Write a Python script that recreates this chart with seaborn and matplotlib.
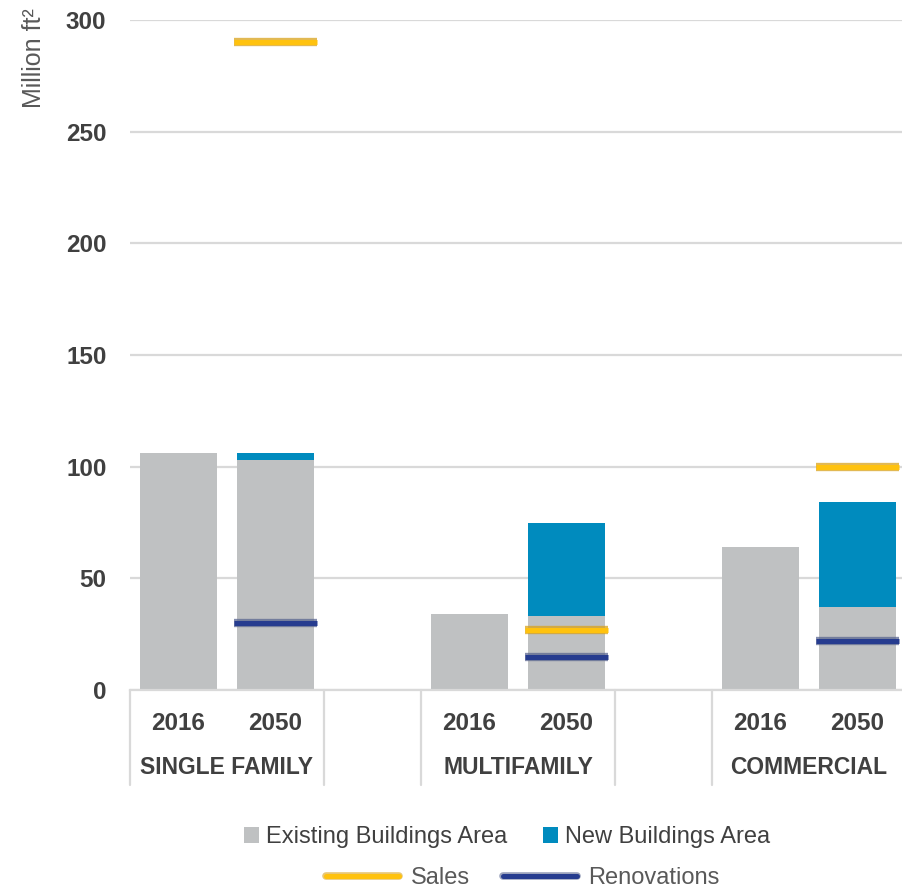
import matplotlib
matplotlib.use("Agg")
import matplotlib.pyplot as plt
import matplotlib.patheffects as pe
from matplotlib.patches import Patch
from matplotlib.lines import Line2D
import matplotlib.transforms as mtransforms
import numpy as np
import pandas as pd
import seaborn as sns

# ---- data (million ft²) ----
groups = ["SINGLE FAMILY", "MULTIFAMILY", "COMMERCIAL"]
years = ["2016", "2050"]
slots = ["SF 2016", "SF 2050", "MF 2016", "MF 2050", "COM 2016", "COM 2050"]
existing_area = [106, 103, 34, 33, 64, 37]
new_area = [0, 3, 0, 42, 0, 47]
sales_slots = ["SF 2050", "MF 2050", "COM 2050"]
sales = [290, 27, 100]
renovations = [30, 15, 22]

# category order on the axis, with empty spacer slots between groups
order = ["SF 2016", "SF 2050", "gap 1", "MF 2016", "MF 2050", "gap 2", "COM 2016", "COM 2050"]
tick_labels = ["2016", "2050", "", "2016", "2050", "", "2016", "2050"]
yticks = [0, 50, 100, 150, 200, 250, 300]

GRAY = "#BFC1C2"
BLUE = "#008BBE"
YELLOW = "#FFC20E"
YELLOW_EDGE = "#D9A21A"
NAVY = "#263C8F"
NAVY_EDGE = "#5A6690"
GRID = "#D9D9D9"
TEXT = "#404040"
TEXT2 = "#595959"

sns.set_style("white")
plt.rcParams["font.family"] = ["Liberation Sans", "DejaVu Sans"]

df = pd.DataFrame({"slot": slots, "existing": existing_area, "new": new_area})
df["total"] = df["existing"] + df["new"]

W, H = 902, 892
fig = plt.figure(figsize=(W / 100, H / 100), dpi=100)
ax = fig.add_axes([130 / W, (H - 690) / H, 776 / W, 670 / H])

# stacked bars: total in blue, existing area drawn over it in gray
sns.barplot(data=df, x="slot", y="total", order=order, color=BLUE,
            saturation=1, width=0.8, linewidth=0, ax=ax, zorder=2)
sns.barplot(data=df, x="slot", y="existing", order=order, color=GRAY,
            saturation=1, width=0.8, linewidth=0, ax=ax, zorder=3)

# sales / renovation markers as short horizontal dashes across the bars
half = 0.426
for vals, core, edge in [(sales, YELLOW, YELLOW_EDGE), (renovations, NAVY, NAVY_EDGE)]:
    xs = np.array([order.index(s) for s in sales_slots])
    ax.hlines(vals, xs - half, xs + half, colors=core, linewidth=3.6, zorder=5,
              capstyle="butt",
              path_effects=[pe.Stroke(linewidth=6.0, foreground=edge, alpha=0.75),
                            pe.Normal()])

ax.set_xlim(-0.5, 7.5)
ax.set_ylim(0, 300)
ax.set_yticks(yticks)
ax.set_yticklabels([str(v) for v in yticks], fontsize=17.5, fontweight="bold", color=TEXT)
ax.set_xticks(range(len(order)))
ax.set_xticklabels(tick_labels, fontsize=17.5, fontweight="bold", color=TEXT)
ax.tick_params(axis="y", length=0, pad=17)
ax.tick_params(axis="x", length=0, pad=16)
ax.set_xlabel("")
ax.set_ylabel("")

ax.yaxis.grid(True, color=GRID, linewidth=1.6, zorder=0)
ax.set_axisbelow(True)
for side in ["top", "right", "left"]:
    ax.spines[side].set_visible(False)
ax.spines["bottom"].set_color(GRID)
ax.spines["bottom"].set_linewidth(1.6)
ax.spines["bottom"].set_zorder(4)

# group separators and group labels below the year labels
trans = mtransforms.blended_transform_factory(ax.transData, ax.transAxes)
for xb in [-0.5, 1.5, 2.5, 4.5, 5.5]:
    ax.plot([xb, xb], [0, -95 / 670], transform=trans, color=GRID,
            linewidth=1.6, clip_on=False)
for name, xc in zip(groups, [0.5, 3.5, 6.5]):
    ax.text(xc, -78 / 670, name, transform=trans, ha="center", va="center",
            fontsize=16.5, fontweight="bold", color=TEXT)

fig.text(34 / W, 1 - 58 / H, "Million ft²", rotation=90, ha="center", va="center",
         fontsize=18, color=TEXT2)

# legends
area_handles = [Patch(facecolor=GRAY, edgecolor="none"),
                Patch(facecolor=BLUE, edgecolor="none")]
leg1 = fig.legend(area_handles, ["Existing Buildings Area", "New Buildings Area"],
                  loc="center", bbox_to_anchor=(507 / W, 1 - 837 / H), ncol=2,
                  frameon=False, fontsize=17, handlelength=0.65, handleheight=0.65,
                  handletextpad=0.3, columnspacing=1.5, labelcolor=TEXT)
line_handles = [
    Line2D([], [], color=YELLOW, linewidth=3.6,
           path_effects=[pe.Stroke(linewidth=5.5, foreground=YELLOW_EDGE, alpha=0.6), pe.Normal()]),
    Line2D([], [], color=NAVY, linewidth=3.6,
           path_effects=[pe.Stroke(linewidth=5.5, foreground=NAVY_EDGE, alpha=0.6), pe.Normal()]),
]
leg2 = fig.legend(line_handles, ["Sales", "Renovations"],
                  loc="center", bbox_to_anchor=(523 / W, 1 - 878 / H), ncol=2,
                  frameon=False, fontsize=17, handlelength=3.1,
                  handletextpad=0.5, columnspacing=1.4, labelcolor=TEXT2)

fig.savefig("out.png", dpi=100)
